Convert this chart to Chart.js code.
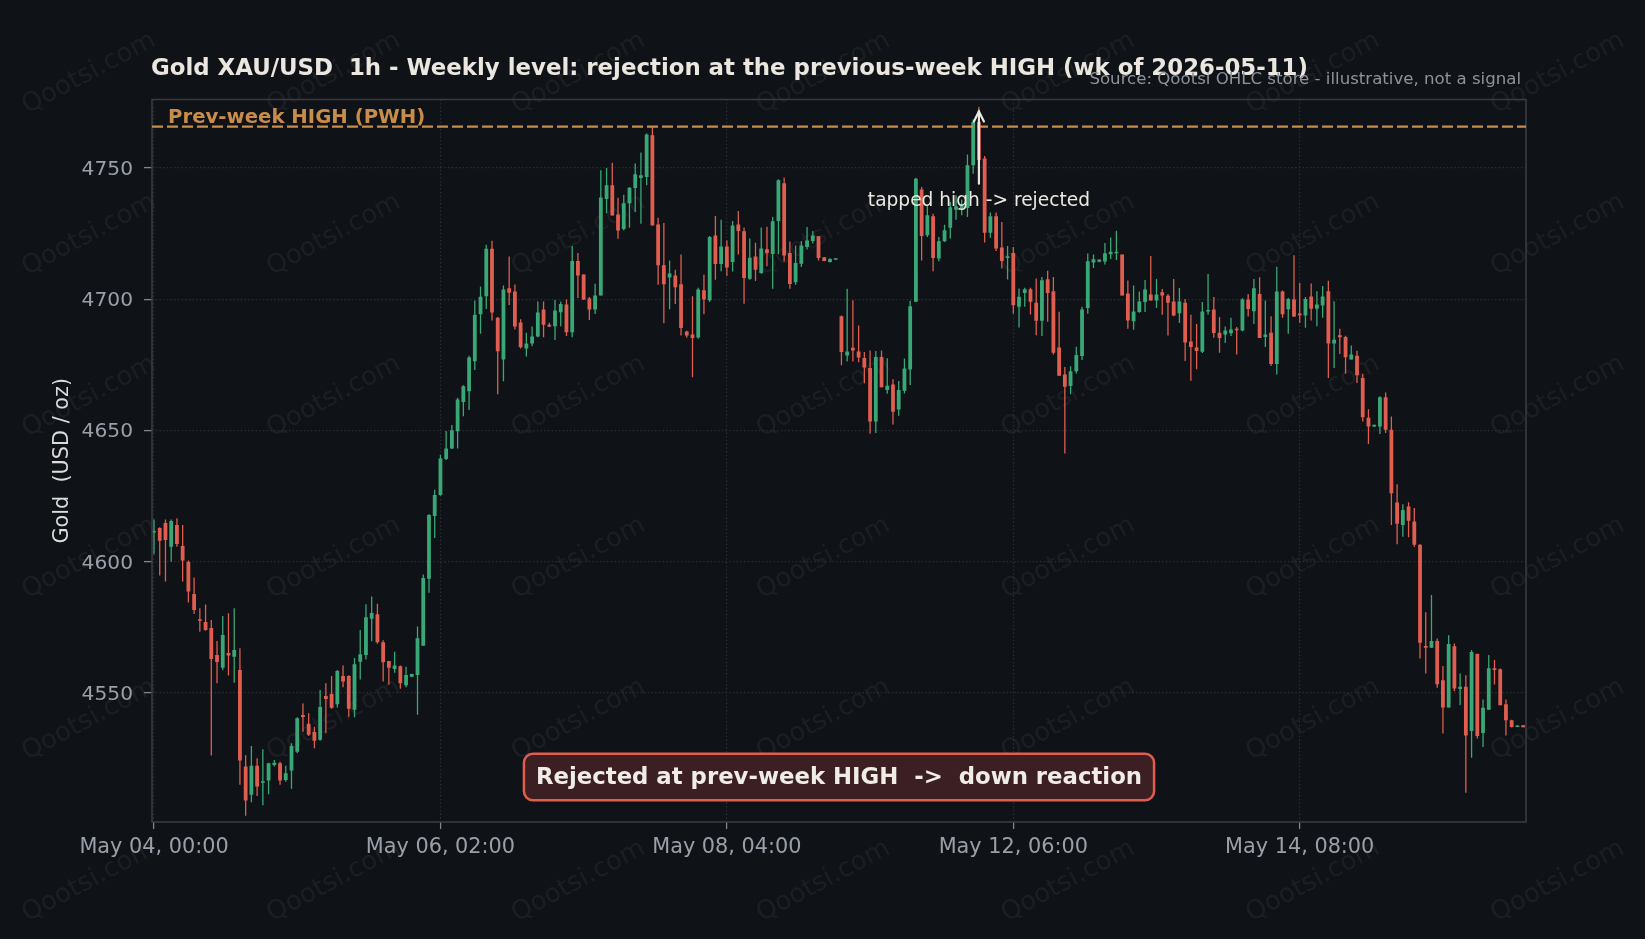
<!DOCTYPE html>
<html><head><meta charset="utf-8">
<script src="https://cdn.jsdelivr.net/npm/chart.js@4.4.1/dist/chart.umd.min.js"></script>
<style>html,body{margin:0;padding:0;background:#0f1216;}canvas{display:block;}</style>
</head><body>
<canvas id="c" width="1645" height="939"></canvas>
<script>
// ---- data (1h bars, index-based x axis) ----
const opens = [4611.1,4612.8,4614.7,4605.7,4614.0,4606.0,4599.9,4587.7,4577.8,4577.0,
4574.7,4564.4,4559.6,4565.2,4563.8,4558.7,4521.9,4511.2,4522.2,4515.8,
4516.6,4522.5,4523.2,4516.8,4520.4,4527.6,4541.6,4538.2,4535.1,4532.1,
4548.8,4549.6,4545.7,4556.4,4556.4,4543.6,4561.9,4564.4,4578.2,4580.0,
4569.3,4562.1,4559.1,4560.1,4552.9,4556.1,4556.8,4568.0,4593.5,4617.4,
4625.4,4639.1,4643.1,4649.7,4660.8,4664.9,4676.4,4694.3,4701.1,4719.2,
4692.9,4677.0,4704.2,4702.9,4691.1,4681.2,4683.1,4685.8,4696.1,4690.3,
4689.7,4695.0,4698.0,4687.4,4714.6,4709.4,4700.3,4696.1,4701.4,4738.2,
4743.4,4732.3,4726.8,4736.6,4742.4,4746.2,4746.6,4762.5,4728.5,4712.9,
4708.3,4709.0,4705.7,4687.7,4686.6,4685.4,4703.4,4699.6,4724.3,4713.4,
4720.1,4714.2,4728.5,4725.9,4707.8,4716.3,4710.0,4719.0,4717.2,4729.8,
4744.2,4717.6,4706.5,4713.5,4719.9,4722.2,4724.0,4716.0,4714.2,4715.0,
4693.5,4678.6,4681.5,4680.1,4677.6,4673.8,4653.4,4678.0,4665.4,4667.5,
4658.0,4665.1,4673.2,4699.0,4741.8,4724.4,4731.6,4715.5,4722.1,4727.2,
4734.1,4734.5,4734.8,4751.0,4767.5,4753.6,4725.3,4731.6,4719.7,4715.7,
4717.6,4697.1,4702.4,4703.8,4698.7,4691.8,4707.6,4703.0,4681.6,4671.3,
4666.9,4672.6,4678.4,4696.7,4714.0,4714.3,4714.4,4717.1,4717.5,4717.0,
4702.2,4691.6,4695.1,4698.9,4701.8,4699.5,4702.7,4701.3,4699.1,4694.7,
4698.7,4683.9,4681.6,4680.0,4695.3,4696.1,4687.2,4686.6,4687.0,4688.6,
4688.1,4699.9,4695.4,4702.0,4685.6,4687.2,4675.3,4702.9,4696.2,4699.9,
4694.6,4693.8,4701.0,4696.4,4697.6,4703.0,4683.1,4686.3,4685.6,4677.0,
4678.5,4670.0,4654.8,4651.5,4651.5,4662.6,4650.3,4622.5,4614.0,4621.0,
4615.3,4606.4,4567.9,4567.2,4569.8,4554.8,4544.4,4567.8,4551.5,4552.3,
4535.5,4564.8,4534.7,4543.6,4559.4,4559.0,4545.7,4539.6,4537.0,4537.7];
const highs = [4616.1,4613.1,4616.1,4616.1,4616.5,4614.0,4600.4,4594.0,4582.2,4583.7,
4577.8,4569.8,4579.3,4580.3,4582.2,4567.0,4526.2,4529.8,4525.1,4528.5,
4523.4,4524.4,4523.8,4522.2,4530.8,4540.7,4546.0,4542.2,4537.1,4551.1,
4553.7,4556.4,4558.7,4560.4,4556.7,4563.3,4574.0,4583.8,4586.7,4584.0,
4570.1,4562.1,4565.7,4560.4,4560.0,4557.3,4575.3,4595.1,4618.1,4627.4,
4640.7,4649.8,4652.1,4662.5,4667.2,4678.5,4699.5,4704.8,4720.8,4722.3,
4693.2,4705.2,4716.3,4705.6,4692.4,4687.2,4689.6,4699.1,4699.1,4691.0,
4699.7,4699.1,4699.9,4720.4,4717.6,4709.4,4700.8,4705.9,4749.1,4750.0,
4752.0,4738.7,4739.8,4742.7,4751.7,4755.9,4763.1,4765.8,4731.0,4729.0,
4714.8,4711.2,4717.0,4688.0,4701.1,4704.4,4709.3,4724.1,4731.7,4730.3,
4722.4,4729.8,4733.6,4727.3,4723.1,4721.5,4727.3,4727.6,4731.3,4745.7,
4746.4,4722.0,4720.5,4722.2,4727.5,4726.0,4724.0,4716.0,4715.6,4715.4,
4693.8,4704.0,4699.6,4690.0,4679.9,4680.5,4680.3,4680.5,4677.5,4669.5,
4668.8,4677.4,4699.4,4746.3,4742.8,4735.8,4732.6,4723.7,4728.4,4737.1,
4739.6,4738.0,4755.1,4768.5,4773.2,4754.6,4733.0,4733.0,4729.4,4720.3,
4719.9,4704.1,4704.4,4704.4,4707.9,4708.5,4710.8,4708.5,4695.2,4674.2,
4674.5,4681.9,4697.1,4717.4,4717.0,4715.1,4721.4,4723.5,4726.1,4717.0,
4707.1,4705.2,4702.9,4707.3,4716.5,4707.7,4703.9,4702.0,4707.7,4704.3,
4700.1,4694.1,4690.6,4698.9,4709.6,4700.8,4693.2,4689.6,4692.9,4689.4,
4700.4,4702.0,4707.7,4708.4,4699.5,4693.5,4712.4,4703.3,4700.5,4716.8,
4706.2,4700.8,4706.0,4703.0,4705.0,4707.0,4699.2,4688.7,4686.1,4682.4,
4680.4,4671.6,4658.1,4652.2,4663.0,4664.5,4655.3,4629.5,4621.9,4622.6,
4620.4,4606.6,4580.7,4587.3,4570.7,4560.2,4572.0,4568.8,4557.4,4556.7,
4566.3,4565.0,4547.5,4564.4,4562.5,4559.3,4547.5,4539.8,4537.7,4537.7];
const lows = [4602.8,4594.7,4592.4,4600.0,4605.7,4592.4,4584.4,4580.1,4573.3,4573.7,
4526.1,4553.7,4558.6,4556.6,4553.9,4515.0,4503.2,4508.3,4510.7,4507.2,
4511.4,4521.9,4515.0,4516.1,4513.5,4527.0,4535.2,4533.6,4528.9,4531.8,
4534.6,4544.0,4544.4,4552.1,4540.9,4540.7,4555.1,4562.7,4569.7,4568.7,
4554.3,4553.1,4557.7,4551.6,4552.1,4556.0,4541.7,4568.0,4588.2,4609.0,
4625.1,4638.7,4642.9,4643.1,4655.4,4657.8,4673.0,4686.8,4696.3,4691.9,
4663.8,4668.7,4697.8,4688.5,4681.2,4678.2,4682.1,4685.5,4685.5,4689.3,
4684.5,4689.7,4686.0,4685.5,4700.5,4699.7,4692.1,4694.4,4701.4,4732.8,
4731.9,4723.0,4726.2,4727.2,4733.2,4728.8,4743.4,4728.1,4705.5,4690.8,
4696.2,4698.2,4686.2,4685.3,4670.3,4684.9,4694.3,4698.9,4707.4,4710.7,
4708.8,4710.6,4717.0,4698.3,4707.4,4706.9,4709.7,4712.6,4704.0,4717.2,
4714.4,4704.0,4705.5,4712.3,4718.9,4721.2,4714.8,4714.5,4714.0,4714.9,
4674.8,4676.3,4676.3,4676.0,4668.0,4648.7,4649.0,4666.5,4664.0,4652.3,
4655.6,4664.1,4667.3,4699.0,4714.8,4723.7,4710.7,4714.5,4721.8,4723.1,
4730.3,4732.0,4731.3,4747.8,4752.0,4721.6,4723.4,4718.4,4711.7,4707.5,
4694.5,4689.2,4697.1,4694.2,4686.3,4686.0,4691.4,4678.9,4670.8,4641.2,
4663.8,4671.7,4676.8,4694.5,4711.9,4714.1,4713.2,4715.3,4714.9,4701.4,
4688.7,4688.4,4694.8,4695.1,4699.5,4696.7,4694.1,4686.2,4693.5,4690.9,
4676.5,4668.9,4673.3,4679.5,4694.1,4685.3,4679.6,4683.3,4686.0,4678.9,
4687.8,4693.4,4690.6,4685.2,4681.8,4674.6,4671.3,4692.9,4686.8,4693.2,
4691.0,4689.1,4691.9,4689.7,4692.9,4670.0,4673.8,4679.1,4671.6,4677.0,
4668.1,4653.4,4644.8,4651.3,4648.6,4649.0,4614.0,4606.6,4609.5,4609.3,
4605.7,4563.1,4557.4,4567.2,4552.0,4534.5,4544.4,4550.6,4545.3,4511.9,
4525.3,4532.6,4529.4,4543.6,4553.2,4545.3,4533.8,4536.8,4536.9,4536.9];
const closes = [4611.7,4608.0,4608.3,4615.5,4606.7,4600.4,4588.6,4581.6,4577.5,4574.0,
4562.9,4561.8,4572.1,4564.2,4566.3,4524.2,4509.0,4522.2,4514.3,4516.1,
4523.2,4523.4,4516.6,4519.4,4529.8,4540.3,4540.8,4534.0,4531.8,4544.6,
4547.7,4544.3,4558.3,4554.3,4544.0,4560.9,4564.7,4578.8,4580.4,4569.3,
4561.7,4559.6,4560.4,4553.7,4556.8,4557.2,4570.8,4593.8,4617.8,4625.4,
4639.3,4643.1,4650.1,4661.8,4666.8,4677.8,4694.1,4700.9,4719.2,4694.9,
4680.2,4703.7,4702.5,4689.6,4681.7,4683.1,4685.8,4694.9,4690.3,4689.6,
4695.7,4698.2,4687.4,4714.6,4709.0,4699.9,4696.1,4701.4,4738.8,4743.4,
4731.9,4726.2,4736.6,4742.5,4747.6,4747.2,4762.8,4728.1,4712.9,4705.7,
4709.8,4704.6,4689.0,4686.2,4685.2,4703.7,4699.9,4723.7,4713.4,4720.1,
4712.1,4728.1,4726.0,4708.1,4715.8,4711.2,4719.3,4717.6,4729.7,4745.3,
4716.7,4705.8,4713.8,4720.5,4722.4,4724.3,4715.7,4714.6,4715.3,4715.2,
4679.9,4680.1,4680.5,4677.8,4674.0,4653.4,4678.0,4666.5,4667.0,4657.1,
4665.4,4673.6,4697.3,4745.9,4724.1,4732.0,4715.7,4722.1,4726.3,4735.0,
4735.4,4735.5,4751.0,4767.5,4753.0,4725.3,4731.6,4719.3,4714.6,4716.4,
4697.7,4700.9,4703.8,4699.0,4691.8,4707.2,4702.4,4679.6,4670.8,4666.6,
4672.6,4678.7,4696.1,4714.5,4715.2,4715.1,4717.5,4718.1,4718.1,4701.4,
4691.9,4695.3,4699.1,4703.7,4699.5,4701.8,4701.4,4698.7,4693.8,4699.1,
4683.5,4681.8,4680.3,4695.3,4695.7,4687.1,4685.2,4688.1,4688.5,4688.2,
4699.9,4696.3,4704.2,4685.2,4686.6,4675.3,4702.9,4694.3,4700.1,4693.4,
4693.9,4700.1,4696.4,4698.0,4701.0,4683.1,4684.6,4685.5,4677.9,4678.9,
4671.0,4655.0,4651.5,4652.2,4662.6,4650.3,4626.1,4614.4,4619.7,4615.6,
4606.4,4569.1,4567.2,4569.8,4553.3,4544.4,4568.6,4551.7,4552.3,4533.8,
4565.6,4533.6,4544.3,4559.4,4558.7,4545.3,4539.6,4537.0,4537.3,4536.9];

const xTickIndex  = [0, 50, 100, 150, 200];
const xTickLabels = ["May 04, 00:00", "May 06, 02:00", "May 08, 04:00", "May 12, 06:00", "May 14, 08:00"];
const yTicks = [4550, 4600, 4650, 4700, 4750];
const pwhLevel = 4765.8;
const tapIndex = 144;
const arrowFrom = 4744.0, arrowTo = 4771.5, tapTextLevel = 4735.4;

// ---- styles ----
const FONT = '"DejaVu Sans", sans-serif';
const GREEN = '#3aa876', RED = '#df5e50';
const BG = '#0f1216', GRID = '#2c3036', TICK = '#9aa0a9', FRAME = '#383b41';
const PWHC = '#c98d4b';

const wickData = lows.map((l, i) => ({x: i, y: [l, highs[i]]}));
const bodyData = opens.map((o, i) => ({x: i, y: [o, closes[i]]}));
const barColors = opens.map((o, i) => closes[i] >= o ? GREEN : RED);

const bgPlugin = {
  id: 'bg',
  beforeDraw(chart) {
    const ctx = chart.ctx;
    ctx.save();
    ctx.fillStyle = BG;
    ctx.fillRect(0, 0, chart.width, chart.height);
    ctx.font = '26px ' + FONT;
    ctx.fillStyle = 'rgba(255,255,255,0.055)';
    ctx.textAlign = 'center';
    ctx.textBaseline = 'middle';
    for (let k = 0; k < 7; k++) {
      for (let j = 0; j < 6; j++) {
        const cx = 89 + 244.8 * k, cy = 73.4 + 161.6 * j;
        ctx.save();
        ctx.translate(cx, cy);
        ctx.rotate(-28 * Math.PI / 180);
        ctx.fillText('Qootsi.com', 0, 0);
        ctx.restore();
      }
    }
    ctx.restore();
  }
};

const overlayPlugin = {
  id: 'overlay',
  afterDraw(chart) {
    const ctx = chart.ctx, a = chart.chartArea;
    const xs = chart.scales.x, ys = chart.scales.y;
    ctx.save();
    // frame
    ctx.strokeStyle = FRAME; ctx.lineWidth = 1.6;
    ctx.strokeRect(a.left, a.top, a.right - a.left, a.bottom - a.top);

    // PWH line
    const py = ys.getPixelForValue(pwhLevel);
    ctx.strokeStyle = PWHC; ctx.lineWidth = 2.3; ctx.setLineDash([11, 4]);
    ctx.beginPath(); ctx.moveTo(a.left, py); ctx.lineTo(a.right, py); ctx.stroke();
    ctx.setLineDash([]);
    ctx.fillStyle = PWHC; ctx.font = 'bold 19.7px ' + FONT;
    ctx.textAlign = 'left'; ctx.textBaseline = 'alphabetic';
    ctx.fillText('Prev-week HIGH (PWH)', 168, 122.7);

    // arrow
    const ax = xs.getPixelForValue(tapIndex);
    const y0 = ys.getPixelForValue(arrowFrom), y1 = ys.getPixelForValue(arrowTo);
    ctx.strokeStyle = '#ece8e1'; ctx.lineWidth = 2.2; ctx.lineCap = 'round';
    ctx.beginPath(); ctx.moveTo(ax, y0); ctx.lineTo(ax, y1); ctx.stroke();
    ctx.beginPath(); ctx.moveTo(ax - 5, y1 + 10); ctx.lineTo(ax, y1); ctx.lineTo(ax + 5, y1 + 10); ctx.stroke();
    ctx.fillStyle = '#ece8e1'; ctx.font = '18.6px ' + FONT; ctx.textAlign = 'center';
    ctx.textBaseline = 'alphabetic';
    ctx.fillText('tapped high -> rejected', ax, ys.getPixelForValue(tapTextLevel));

    // box
    const boxText = 'Rejected at prev-week HIGH  ->  down reaction';
    ctx.font = 'bold 22.8px ' + FONT;
    const tw = ctx.measureText(boxText).width;
    const bw = tw + 24, bh = 46.5;
    const bcx = (a.left + a.right) / 2, bcy = a.bottom - 45;
    ctx.beginPath();
    ctx.roundRect(bcx - bw / 2, bcy - bh / 2, bw, bh, 9);
    ctx.fillStyle = '#3b1f22'; ctx.fill();
    ctx.strokeStyle = RED; ctx.lineWidth = 2.5; ctx.stroke();
    ctx.fillStyle = '#f0ece6'; ctx.textAlign = 'center'; ctx.textBaseline = 'middle';
    ctx.fillText(boxText, bcx, bcy + 1);

    // title
    ctx.fillStyle = '#ebe7e0'; ctx.font = 'bold 22.85px ' + FONT;
    ctx.textAlign = 'left'; ctx.textBaseline = 'alphabetic';
    ctx.fillText('Gold XAU/USD  1h - Weekly level: rejection at the previous-week HIGH (wk of 2026-05-11)', 151, 74.5);
    // source
    ctx.fillStyle = '#8e949d'; ctx.font = '16.6px ' + FONT; ctx.textAlign = 'right';
    ctx.fillText('Source: Qootsi OHLC store - illustrative, not a signal', 1521, 84);
    // y title
    ctx.save();
    ctx.translate(63, (a.top + a.bottom) / 2);
    ctx.rotate(-Math.PI / 2);
    ctx.fillStyle = '#dcdcdc'; ctx.font = '20.8px ' + FONT;
    ctx.textAlign = 'center'; ctx.textBaseline = 'middle';
    ctx.fillText('Gold  (USD / oz)', 0, 0);
    ctx.restore();
    ctx.restore();
  }
};

new Chart(document.getElementById('c'), {
  type: 'bar',
  data: {
    datasets: [
      {data: wickData, backgroundColor: barColors, barThickness: 1.3, grouped: false, borderWidth: 0, inflateAmount: 0, order: 2},
      {data: bodyData, backgroundColor: barColors, barThickness: 3.8, grouped: false, borderWidth: 0, inflateAmount: 0, minBarLength: 1.5, order: 1}
    ]
  },
  options: {
    responsive: false, animation: false, devicePixelRatio: 1,
    layout: {padding: {top: 99.5, right: 119, left: 0, bottom: 0}},
    plugins: {legend: {display: false}, tooltip: {enabled: false}},
    scales: {
      x: {
        type: 'linear', min: -0.35, max: 239.5, offset: false,
        grid: {offset: false, color: GRID, lineWidth: 1.2, drawTicks: true, tickLength: 7, tickColor: '#80868f', tickWidth: 1.3},
        border: {display: false, dash: [1.4, 2.3]},
        afterBuildTicks: (s) => { s.ticks = xTickIndex.map(v => ({value: v})); },
        afterFit: (s) => { s.height = 117; },
        ticks: {autoSkip: false, maxRotation: 0, minRotation: 0, padding: 6, color: TICK,
          font: {family: FONT, size: 20.8},
          callback: (v) => { const k = xTickIndex.indexOf(v); return k >= 0 ? xTickLabels[k] : ''; }}
      },
      y: {
        min: 4500.8, max: 4776.1,
        grid: {color: GRID, lineWidth: 1.2, drawTicks: true, tickLength: 8, tickColor: '#80868f', tickWidth: 1.3},
        border: {display: false, dash: [1.4, 2.3]},
        afterBuildTicks: (s) => { s.ticks = yTicks.map(v => ({value: v})); },
        afterFit: (s) => { s.width = 152; },
        ticks: {padding: 11, labelOffset: 1.6, color: TICK, font: {family: FONT, size: 20.2},
          callback: (v) => String(v)}
      }
    }
  },
  plugins: [bgPlugin, overlayPlugin]
});
</script>
</body></html>
